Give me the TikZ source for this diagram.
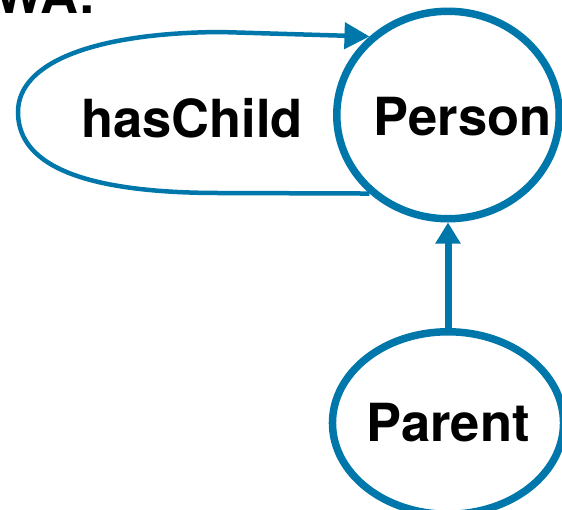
\documentclass[tikz,border=0pt]{standalone}
\usepackage{fontspec}
\setmainfont{TeX Gyre Heros}
\usetikzlibrary{shapes.geometric,arrows.meta}
\definecolor{owlblue}{RGB}{0,119,170}
\tikzset{
  classnode/.style={ellipse, draw=owlblue, line width=7.5pt, inner sep=0pt,
    font=\fontsize{52.5}{60}\selectfont\bfseries},
  bigtext/.style={font=\fontsize{52.5}{60}\selectfont\bfseries, inner sep=0pt},
  subclass/.style={draw=owlblue, line width=7pt, -{Triangle[width=24pt,length=21pt]}},
  property/.style={draw=owlblue, line width=4.5pt, -{Triangle[width=26pt,length=25pt]}}
}
\begin{document}
\begin{tikzpicture}[x=1pt, y=-1pt]
  \useasboundingbox (0,0) rectangle (562,509);
  \clip (0,0) rectangle (562,509);

  % heading, mostly above the frame
  \node[bigtext, anchor=base west] (head) at (-6,13) {WA:};

  % classes
  \node[classnode, minimum width=222.5pt, minimum height=207.5pt,
        label={[bigtext, xshift=14.5pt, yshift=-1.5pt]center:Person}]
        (person) at (448,115) {};
  \node[classnode, minimum width=203.5pt, minimum height=182.5pt]
        (parent) at (448,423) {Parent};

  % property label inside the loop
  \node[bigtext, anchor=base] (haschild) at (192,137) {hasChild};

  % Parent is a subclass of Person
  \draw[subclass] (parent.north) -- (person.south);

  % hasChild loop on Person
  \draw[property] (person.225) -- (220,193)
      .. controls (60,193) and (18,155) .. (18,112)
      .. controls (18,62) and (95,33) .. (220,32)
      -- (person.135);
\end{tikzpicture}
\end{document}
